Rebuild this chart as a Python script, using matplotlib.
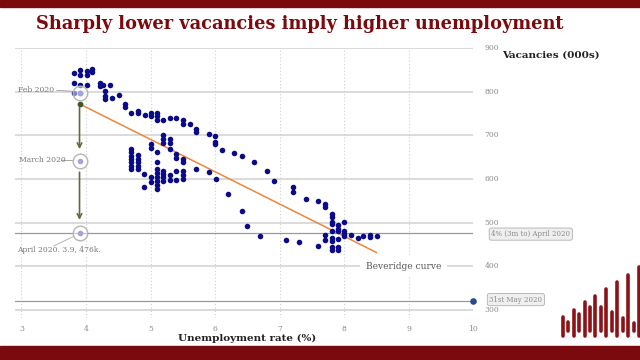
import matplotlib
matplotlib.use("Agg")
import matplotlib.pyplot as plt
from matplotlib.lines import Line2D
from matplotlib.patches import Rectangle

# unemployment rate (%) and vacancies (000s)
unemp = [3.81, 3.81, 3.81, 3.90, 3.90, 3.90, 3.90, 4.01, 4.01, 4.01,
         4.09, 4.09, 4.21, 4.21, 4.27, 4.29, 4.29, 4.29, 4.37, 4.40,
         4.51, 4.60, 4.60, 4.70, 4.80, 4.80, 4.91, 5.00, 5.01, 5.10,
         5.10, 5.10, 5.20, 5.30, 5.40, 5.50, 5.50, 5.61, 5.71, 5.71,
         5.90, 6.00, 6.00, 6.00, 6.11, 6.30, 6.41, 6.60, 6.80, 6.91,
         7.21, 7.21, 7.41, 7.60, 7.71, 7.71, 7.81, 7.81, 7.81, 7.81,
         7.81, 7.90, 7.90, 7.90, 8.00, 8.00, 8.00, 8.00, 8.10, 8.21,
         8.30, 8.40, 8.40, 8.51, 7.71, 7.71, 7.81, 7.81, 7.81, 7.81,
         7.90, 7.90, 7.90, 7.60, 7.30, 7.10, 6.70, 6.50, 6.41, 6.20,
         4.70, 4.70, 4.70, 4.70, 4.70, 4.70, 4.70,
         4.80, 4.80, 4.80, 4.80, 4.80, 4.90, 4.90,
         5.01, 5.01, 5.01, 5.01,
         5.10, 5.10, 5.10, 5.10, 5.10, 5.10, 5.10, 5.10,
         5.20, 5.20, 5.20, 5.20, 5.20, 5.20, 5.20,
         5.30, 5.30, 5.30, 5.30, 5.30,
         5.40, 5.40, 5.40, 5.40,
         5.50, 5.50, 5.50, 5.50, 5.50,
         5.71, 5.90, 6.02]
vac = [842, 820, 798, 850, 839, 816, 798, 848, 839, 816,
       852, 844, 821, 814, 816, 801, 791, 783, 816, 786,
       793, 772, 765, 752, 756, 751, 746, 752, 744, 752,
       744, 736, 736, 739, 740, 736, 727, 727, 714, 708,
       702, 698, 685, 680, 667, 659, 652, 639, 618, 595,
       581, 571, 555, 550, 542, 535, 520, 513, 502, 498,
       482, 494, 486, 480, 502, 482, 475, 469, 473, 465,
       470, 473, 467, 469, 473, 460, 464, 458, 445, 437,
       462, 445, 437, 446, 456, 460, 470, 492, 527, 565,
       668, 661, 653, 645, 638, 630, 623,
       655, 647, 638, 630, 623, 611, 581,
       680, 672, 604, 594,
       661, 638, 623, 615, 604, 596, 586, 577,
       700, 691, 683, 619, 611, 604, 596,
       692, 682, 668, 609, 598,
       657, 649, 619, 598,
       645, 638, 619, 609, 600,
       624, 617, 600]

# Beveridge curve fit
bev_x = [3.9, 8.5]
bev_y = [772, 432]

# highlighted 2020 points
covid_labels = ["Feb 2020", "March 2020", "April 2020. 3.9, 476k."]
covid_x = [3.9, 3.9, 3.9]
covid_y = [798, 641, 476]
may_x = 10
may_y = 322

xticks = [3, 4, 5, 6, 7, 8, 9, 10]
yticks = [300, 400, 500, 600, 700, 800, 900]

# logo bars in the corner (pixel tops)
logo_tops = [317, 322, 310, 314, 302, 307, 296, 307, 289, 312, 282, 318, 275, 323, 267]

RED = "#7a0a0e"
NAVY = "#0b0b8a"
GREY = "#8a8a8a"
SERIF = "DejaVu Serif"

fig = plt.figure(figsize=(6.4, 3.6), dpi=100)
fig.patch.set_facecolor("white")

# top and bottom bands
fig.patches.append(Rectangle((0, 0.981), 1, 0.019, transform=fig.transFigure,
                             color=RED, zorder=0))
fig.patches.append(Rectangle((0, 0), 1, 0.039, transform=fig.transFigure,
                             color=RED, zorder=0))

ax = fig.add_axes([0.0234, 0.1167, 0.716, 0.75])
ax.set_xlim(2.9, 10)
ax.set_ylim(282, 900)
for s in ax.spines.values():
    s.set_visible(False)

# grid
for y in yticks:
    ax.axhline(y, color="#d4d4d4", lw=1.2, zorder=1)
for x in xticks:
    ax.axvline(x, color="#cfcfcf", lw=0.8, ls=(0, (1, 2)), zorder=1)

ax.set_xticks(xticks)
ax.set_yticks(yticks)
ax.yaxis.tick_right()
ax.tick_params(axis="both", length=0, labelsize=5.5, labelcolor=GREY)
ax.tick_params(axis="x", pad=5)
ax.tick_params(axis="y", pad=8)
for lab in ax.get_xticklabels() + ax.get_yticklabels():
    lab.set_fontfamily(SERIF)
for lab in ax.get_yticklabels():
    lab.set_verticalalignment("center")

# reference lines for April and May 2020
ax.axhline(covid_y[2], color="#9a9a9a", lw=0.9, zorder=2)
ax.axhline(may_y, color="#9a9a9a", lw=0.9, zorder=2)

# scatter
ax.scatter(unemp, vac, s=16, color=NAVY, zorder=4, linewidths=0)

# Beveridge curve
ax.plot(bev_x, bev_y, color="#e8893a", lw=1.1, zorder=3)
ax.scatter([bev_x[0]], [bev_y[0]], s=10, color="#3d5a2a", zorder=5)

# covid markers
ax.scatter(covid_x, covid_y, s=110, facecolor=(1, 1, 1, 0.5), edgecolor="#b5b5b5",
           lw=1.0, zorder=5)
ax.scatter(covid_x, covid_y, s=9, color="#a4a4d6", zorder=6)

# arrows Feb -> March -> April
arrow_kw = dict(arrowstyle="->", color="#5b6e3a", lw=1.2, mutation_scale=8)
ax.annotate("", xy=(3.9, 662), xytext=(3.9, 770), arrowprops=arrow_kw, zorder=5)
ax.annotate("", xy=(3.9, 500), xytext=(3.9, 622), arrowprops=arrow_kw, zorder=5)

# left labels
lab_kw = dict(fontsize=5.5, color="#777777", family=SERIF, va="center")
ax.text(2.95, covid_y[0] + 5, covid_labels[0], ha="left", **lab_kw)
ax.plot([3.55, 3.78], [covid_y[0] + 5, covid_y[0] + 3], color="#999999", lw=0.6)
ax.text(2.96, covid_y[1] + 2, covid_labels[1], ha="left", **lab_kw)
ax.plot([3.62, 3.78], [covid_y[1] + 2, covid_y[1] + 2], color="#999999", lw=0.6)
ax.text(2.93, 438, covid_labels[2], ha="left", **lab_kw)
ax.plot([3.5, 3.8], [447, 468], color="#aaaaaa", lw=0.6)

# May 2020 point on the right edge
ax.scatter([may_x], [may_y], s=14, color="#2b4a8c", zorder=6, clip_on=False)

# callout boxes
box_kw = dict(boxstyle="round,pad=0.3", fc="#efefef", ec="#b0b0b0", lw=0.6)
ax.text(10.28, covid_y[2] - 2, "4% (3m to) April 2020", fontsize=5, color="#8a8a8a",
        family=SERIF, va="center", ha="left", bbox=box_kw, clip_on=False)
ax.text(10.25, may_y + 2, "31st May 2020", fontsize=5, color="#8a8a8a",
        family=SERIF, va="center", ha="left", bbox=box_kw, clip_on=False)

# Beveridge curve label
ax.text(8.92, 400, "Beveridge curve", fontsize=6.5, color="#555555", family=SERIF,
        ha="center", va="center",
        bbox=dict(boxstyle="square,pad=0.6", fc="white", ec="none"), zorder=3)

# titles
fig.text(0.468, 0.932, "Sharply lower vacancies imply higher unemployment",
         fontsize=12.8, fontweight="bold", color=RED, family=SERIF,
         ha="center", va="center")
fig.text(0.861, 0.847, "Vacancies (000s)", fontsize=7.5, fontweight="bold",
         color="#222222", family=SERIF, ha="center", va="center")
fig.text(0.386, 0.061, "Unemployment rate (%)", fontsize=7.5, fontweight="bold",
         color="#222222", family=SERIF, ha="center", va="center")

# corner logo
for i, top in enumerate(logo_tops):
    x = (562.7 + i * 5.45) / 640
    bottom = 336 if i % 2 == 0 else 331
    fig.lines.append(Line2D([x, x], [1 - top / 360, 1 - bottom / 360],
                            transform=fig.transFigure, color="#8c1218", lw=2.6,
                            solid_capstyle="round"))

fig.savefig("out.png", dpi=100)
